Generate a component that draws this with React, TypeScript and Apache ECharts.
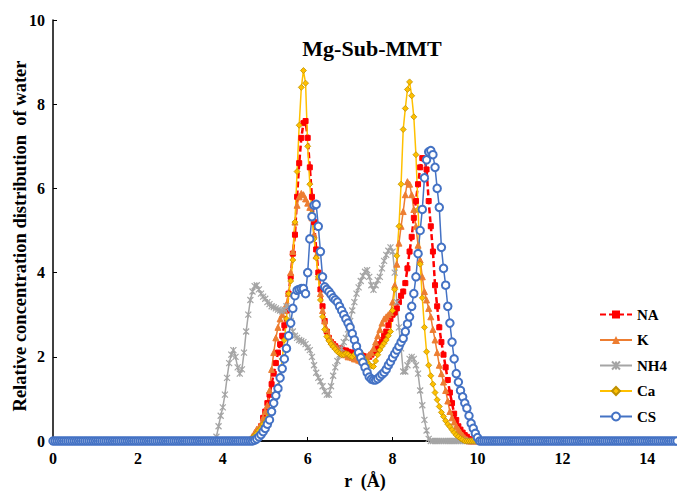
import React, { useEffect, useRef } from "react";
import * as echarts from "echarts";

// ---- data (grid step 0.05 Å, values outside each listed range read as 0) ----
const STEP = 0.05;
const X_MAX = 14.7;
const seriesNames = ["NA", "K", "NH4", "Ca", "CS"];
const xTickLabels = [0, 2, 4, 6, 8, 10, 12, 14];
const yTickLabels = [0, 2, 4, 6, 8, 10];

const NA_START = 4.7;
const NA = [
  0, 0.05, 0.12, 0.2, 0.35, 0.55, 0.7, 0.9, 1.1, 1.35, 1.6, 1.85, 2.1, 2.3, 2.5, 2.75, 3.1, 3.5, 3.9, 4.45,
  4.9, 5.8, 6.6, 7.2, 7.55, 7.6, 7.2, 6.5, 5.8, 5.2, 4.55, 4.0, 3.6, 3.2, 2.85, 2.6, 2.45, 2.35, 2.3, 2.25,
  2.2, 2.2, 2.18, 2.15, 2.15, 2.12, 2.1, 2.1, 2.1, 2.08, 2.05, 2.05, 2.02, 2.0, 2.0, 2.0, 2.05, 2.1, 2.15, 2.2,
  2.3, 2.4, 2.5, 2.6, 2.75, 2.9, 3.0, 3.05, 3.15, 3.3, 3.45, 3.55, 3.75, 4.1, 4.5, 4.85, 5.3, 5.7, 6.1, 6.5,
  6.72, 6.7, 6.45, 5.7, 5.1, 4.5, 3.7, 3.2, 2.7, 2.35, 2.05, 1.75, 1.45, 1.15, 0.9, 0.65, 0.5, 0.35, 0.27, 0.2,
  0.14, 0.1, 0.05, 0.02, 0,
];

const K_START = 4.6;
const K = [
  0, 0.05, 0.12, 0.2, 0.28, 0.32, 0.4, 0.55, 0.7, 0.85, 1.2, 1.7, 2.1, 2.45, 2.7, 2.9, 3.0, 3.1, 3.25, 3.5,
  4.0, 4.5, 5.2, 5.6, 5.8, 5.88, 5.85, 5.75, 5.65, 5.55, 5.3, 4.9, 4.4, 3.9, 3.5, 3.1, 2.85, 2.65, 2.5, 2.4,
  2.3, 2.25, 2.2, 2.15, 2.1, 2.05, 2.05, 2.0, 2.0, 1.98, 1.95, 1.95, 1.92, 1.9, 1.92, 1.95, 2.0, 2.05, 2.1, 2.2,
  2.35, 2.5, 2.65, 2.8, 2.9, 2.95, 3.0, 3.05, 3.3, 3.7, 4.2, 4.7, 5.1, 5.45, 5.85, 6.16, 6.1, 5.85, 5.5, 5.1,
  4.65, 4.3, 3.9, 3.55, 3.35, 3.15, 2.95, 2.65, 2.4, 2.1, 1.8, 1.6, 1.4, 1.2, 0.95, 0.7, 0.55, 0.45, 0.35, 0.28,
  0.2, 0.14, 0.08, 0.04, 0,
];

const NH4_START = 3.8;
const NH4 = [
  0, 0.1, 0.35, 0.6, 0.8, 1.1, 1.5, 1.85, 2.05, 2.16, 2.0, 1.75, 1.6, 1.7, 2.1, 2.6, 3.0, 3.35, 3.55, 3.68,
  3.7, 3.6, 3.5, 3.43, 3.38, 3.3, 3.25, 3.2, 3.18, 3.15, 3.12, 3.1, 3.08, 3.12, 3.2, 3.15, 2.85, 2.6, 2.5, 2.45,
  2.4, 2.38, 2.35, 2.3, 2.22, 2.16, 2.0, 1.8, 1.62, 1.5, 1.42, 1.3, 1.18, 1.1, 1.1, 1.3, 1.55, 1.75, 1.9, 2.05,
  2.2, 2.35, 2.45, 2.65, 2.85, 3.1, 3.3, 3.5, 3.65, 3.8, 3.92, 4.02, 4.06, 3.9, 3.7, 3.59, 3.7, 3.82, 3.9, 4.1,
  4.28, 4.42, 4.52, 4.6, 4.5, 4.0, 3.3, 2.7, 2.2, 1.65, 1.65, 1.8, 1.95, 2.0, 1.95, 1.8, 1.6, 1.2, 0.85, 0.5,
  0.25, 0.05, 0,
];

const CA_START = 4.6;
const CA = [
  0, 0.03, 0.08, 0.12, 0.18, 0.25, 0.3, 0.4, 0.45, 0.55, 0.65, 0.75, 0.85, 1.05, 1.3, 1.55, 1.95, 2.4, 2.9, 3.5,
  3.8, 4.3, 5.2, 6.4, 7.5, 8.4, 8.8, 8.5, 7.0, 6.1, 5.4, 4.8, 4.35, 3.9, 3.35, 2.95, 2.65, 2.48, 2.38, 2.3,
  2.24, 2.18, 2.12, 2.08, 2.05, 2.05, 2.08, 2.06, 2.02, 2.0, 2.05, 2.1, 2.15, 2.1, 2.0, 1.93, 1.88, 1.82, 1.78, 1.77,
  1.9, 2.05, 2.16, 2.25, 2.32, 2.4, 2.5, 2.6, 3.1, 3.6, 4.4, 5.1, 6.1, 7.4, 7.9, 8.35, 8.53, 8.2, 7.7, 6.8,
  5.5, 4.2, 3.4, 2.7, 2.12, 1.8, 1.55, 1.35, 1.15, 0.98, 0.82, 0.68, 0.58, 0.48, 0.4, 0.34, 0.27, 0.2, 0.14, 0.1,
  0.06, 0.03, 0,
];

const CS_START = 4.7;
const CS = [
  0, 0.02, 0.05, 0.1, 0.15, 0.22, 0.3, 0.4, 0.5, 0.7, 0.9, 1.08, 1.25, 1.5, 1.72, 1.95, 2.2, 2.5, 2.8, 3.15,
  3.45, 3.58, 3.6, 3.62, 3.62, 3.5, 4.0, 4.8, 5.33, 5.6, 5.62, 5.1, 4.5, 3.9, 3.66, 3.6, 3.55, 3.48, 3.4, 3.35,
  3.3, 3.2, 3.1, 3.0, 2.9, 2.8, 2.7, 2.55, 2.4, 2.25, 2.1, 1.98, 1.87, 1.75, 1.63, 1.52, 1.47, 1.45, 1.45, 1.48,
  1.53, 1.58, 1.63, 1.7, 1.8, 1.88, 1.98, 2.07, 2.16, 2.25, 2.35, 2.44, 2.6, 2.78, 2.95, 3.2, 3.5, 3.9, 4.45, 5.0,
  5.5, 6.25, 6.68, 6.87, 6.9, 6.8, 6.5, 6.0, 5.55, 4.6, 4.1, 3.7, 3.2, 2.8, 2.35, 1.95, 1.6, 1.4, 1.2, 1.05,
  0.9, 0.78, 0.6, 0.42, 0.3, 0.18, 0.08, 0,
];

function onGrid(start: number, vals: number[]): number[][] {
  const out: number[][] = [];
  const n = Math.round(X_MAX / STEP);
  const s = Math.round(start / STEP);
  for (let i = 0; i <= n; i++) {
    const k = i - s;
    const y = k >= 0 && k < vals.length ? vals[k] : 0;
    out.push([+(i * STEP).toFixed(2), y]);
  }
  return out;
}

const FONT = "'Liberation Serif', 'Times New Roman', serif";
const XMARK = "path://M0,0L10,10M10,0L0,10M5,0L5,10";

export default function App() {
  const ref = useRef<HTMLDivElement>(null);
  useEffect(() => {
    document.body.style.margin = "0";
    if (!ref.current) return;
    const chart = echarts.init(ref.current, undefined, { renderer: "svg" });
    const colors = ["#FF0000", "#ED7D31", "#A5A5A5", "#FFC000", "#4472C4"];
    const datasets = [
      onGrid(NA_START, NA),
      onGrid(K_START, K),
      onGrid(NH4_START, NH4),
      onGrid(CA_START, CA),
      onGrid(CS_START, CS),
    ];
    const symbols = ["rect", "triangle", XMARK, "diamond", "emptyCircle"];
    const sizes = [5, 6, 6, 6, 7.5];
    const series: any[] = seriesNames.map((name, i) => ({
      name,
      type: "line",
      data: datasets[i],
      symbol: symbols[i],
      symbolSize: sizes[i],
      showAllSymbol: true,
      clip: false,
      lineStyle: {
        color: colors[i],
        width: i === 0 ? 2.5 : 1.5,
        type: i === 0 ? [6, 3] : "solid",
      },
      itemStyle:
        i === 2
          ? { color: colors[i], borderColor: colors[i], borderWidth: 1.2 }
          : i === 3
          ? { color: "#FFC000", borderColor: "#BF9000", borderWidth: 0.8 }
          : i === 4
          ? { color: colors[i], borderColor: colors[i], borderWidth: 1.2 }
          : { color: colors[i], borderColor: colors[i] },
      emphasis: { disabled: true },
    }));
    chart.setOption({
      animation: false,
      backgroundColor: "#ffffff",
      grid: { left: 53, right: 0, top: 20, bottom: 50, containLabel: false, outerBoundsMode: "none" },
      graphic: [
        {
          type: "text",
          x: 372,
          y: 48,
          style: {
            text: "Mg-Sub-MMT",
            font: `bold 22px ${FONT}`,
            fill: "#000",
            textAlign: "center",
            textVerticalAlign: "middle",
          },
        },
        {
          type: "text",
          x: 20,
          y: 236,
          rotation: Math.PI / 2,
          style: {
            text: "Relative concentration distribution  of water",
            font: `bold 18.5px ${FONT}`,
            fill: "#000",
            textAlign: "center",
            textVerticalAlign: "middle",
          },
        },
      ],
      legend: {
        data: seriesNames,
        orient: "vertical",
        left: 594,
        top: 302,
        itemWidth: 32,
        itemHeight: 10,
        itemGap: 10.5,
        textStyle: { fontFamily: FONT, fontWeight: "bold", fontSize: 15, color: "#000", lineHeight: 14 },
      },
      xAxis: [
        {
          type: "value",
          min: 0,
          max: X_MAX,
          interval: 2,
          name: "r  (Å)",
          nameLocation: "middle",
          nameGap: 26,
          nameTextStyle: { fontFamily: FONT, fontWeight: "bold", fontSize: 18, color: "#000", lineHeight: 20 },
          axisLine: { show: true, onZero: false, lineStyle: { color: "#000", width: 1.5 } },
          axisTick: { show: true, inside: true, length: 4, lineStyle: { color: "#000" } },
          axisLabel: {
            fontFamily: FONT,
            fontWeight: "bold",
            fontSize: 16,
            color: "#000",
            margin: 9,
            showMaxLabel: false,
            formatter: (v: number) => (xTickLabels.includes(v) ? String(v) : ""),
          },
          splitLine: { show: false },
        },
        {
          type: "value",
          position: "top",
          min: 0,
          max: X_MAX,
          axisLine: { show: true, lineStyle: { color: "#000", width: 1.5 } },
          axisTick: { show: false },
          axisLabel: { show: false },
          splitLine: { show: false },
        },
      ],
      yAxis: {
        type: "value",
        min: 0,
        max: 10,
        interval: 2,
        axisLine: { show: true, lineStyle: { color: "#000", width: 1.5 } },
        axisTick: { show: true, inside: true, length: 4, lineStyle: { color: "#000" } },
        axisLabel: {
          fontFamily: FONT,
          fontWeight: "bold",
          fontSize: 16,
          color: "#000",
          margin: 8,
          formatter: (v: number) => (yTickLabels.includes(v) ? String(v) : ""),
        },
        splitLine: { show: false },
      },
      series,
    });
    return () => chart.dispose();
  }, []);
  return <div ref={ref} style={{ width: 677, height: 491 }} />;
}
